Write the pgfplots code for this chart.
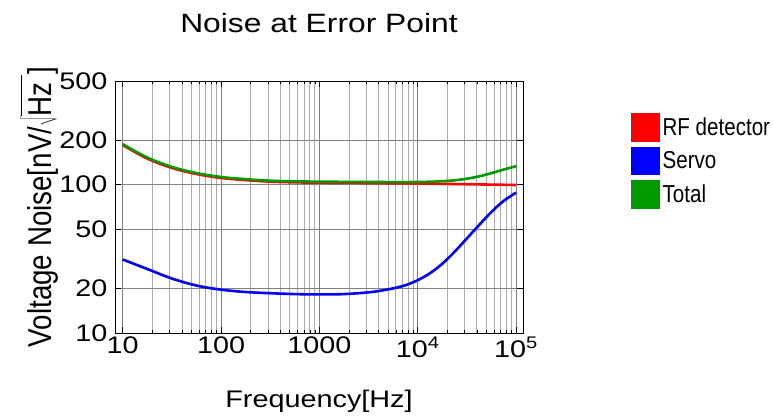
\documentclass[border=0pt]{standalone}
\usepackage{fontspec}
\setmainfont{Liberation Sans}[FakeStretch=1.2]
\newfontfamily\narrowfont{Liberation Sans}[FakeStretch=0.84]
\usepackage{pgfplots}
\pgfplotsset{compat=1.18}
\usepackage{pgfplotstable}
\definecolor{mgreen}{rgb}{0,0.6,0}

\pgfplotstableread{
f red servo total
10 185 31.3 187.6
17.78 150 27.0 152.4
31.62 129.8 23.3 131.9
56.23 118 20.9 119.8
100 111 19.6 112.7
177.8 107.3 18.9 108.95
316.2 104.8 18.55 106.4
562.3 103.7 18.3 105.3
1000 103.2 18.2 104.8
1778 102.9 18.3 104.5
3162 102.6 18.8 104.3
4217 102.4 19.3 104.2
5623 102.2 20.0 104.1
7499 102.0 21.0 104.1
10000 101.8 22.7 104.3
13335 101.6 25.3 104.7
17783 101.3 29.3 105.5
23714 101.0 35.3 107.0
31623 100.7 43.4 109.7
42170 100.4 53.5 113.8
56234 100.1 65.5 119.6
74989 99.8 77.8 126.5
100000 99.5 88.3 133.0
}\datatable

\begin{document}
\begin{tikzpicture}
\path[use as bounding box] (-115pt,-82pt) rectangle (658pt,333pt);
\begin{axis}[
  at={(0,0)}, anchor=south west,
  scale only axis, width=408pt, height=252pt,
  xmode=log, ymode=log,
  xmin=8.35, xmax=117800,
  ymin=10, ymax=500,
  xtick={10,100,1000,10000,100000},
  xticklabels={10,100,1000,10\textsuperscript{4},10\textsuperscript{5}},
  ytick={10,20,50,100,200,500},
  yticklabels={10,20,50,100,200,500},
  ticklabel style={font=\fontsize{24}{24}\selectfont},
  yticklabel style={xshift=-4pt},
  tick align=inside,
  major tick length=6pt, minor tick length=3pt,
  tick style={black, line width=0.6pt},
  axis line style={black, line width=0.8pt},
  grid=both,
  major grid style={black!50, line width=0.8pt},
  minor grid style={black!33, line width=0.8pt},
  title={Noise at Error Point},
  title style={font=\fontsize{26.5}{30}\selectfont, at={(axis description cs:0.5,1.17)}, anchor=base},
  xlabel={Frequency[Hz]},
  xlabel style={font=\fontsize{24}{28}\selectfont, at={(axis description cs:0.5,-0.294)}, anchor=base},
  ylabel={Voltage Noise[nV/$\sqrt{\rule[-0.12em]{0pt}{1.0em}\mbox{Hz }}$]},
  ylabel style={font=\narrowfont\fontsize{33}{36}\selectfont, at={(axis description cs:-0.155,0.5)}, anchor=base, rotate=0},
  legend cell align=left,
  legend image code/.code={\fill[#1] (0pt,-13pt) rectangle (26pt,13pt);},
  legend style={at={(1.2647,0.873)}, anchor=north west, draw=none, fill=none,
    inner sep=0pt, outer sep=0pt, row sep=5pt, column sep=3pt,
    font=\narrowfont\fontsize{24.5}{26}\selectfont,
    nodes={inner sep=0pt}},
]
\addplot[color=red, line width=2.6pt, smooth, tension=0.6] table[x=f, y=red] {\datatable};
\addlegendentry{RF detector}
\addplot[color=blue, line width=2.6pt, smooth, tension=0.6] table[x=f, y=servo] {\datatable};
\addlegendentry{Servo}
\addplot[color=mgreen, line width=2.6pt, smooth, tension=0.6] table[x=f, y=total] {\datatable};
\addlegendentry{Total}
\end{axis}
\end{tikzpicture}
\end{document}
